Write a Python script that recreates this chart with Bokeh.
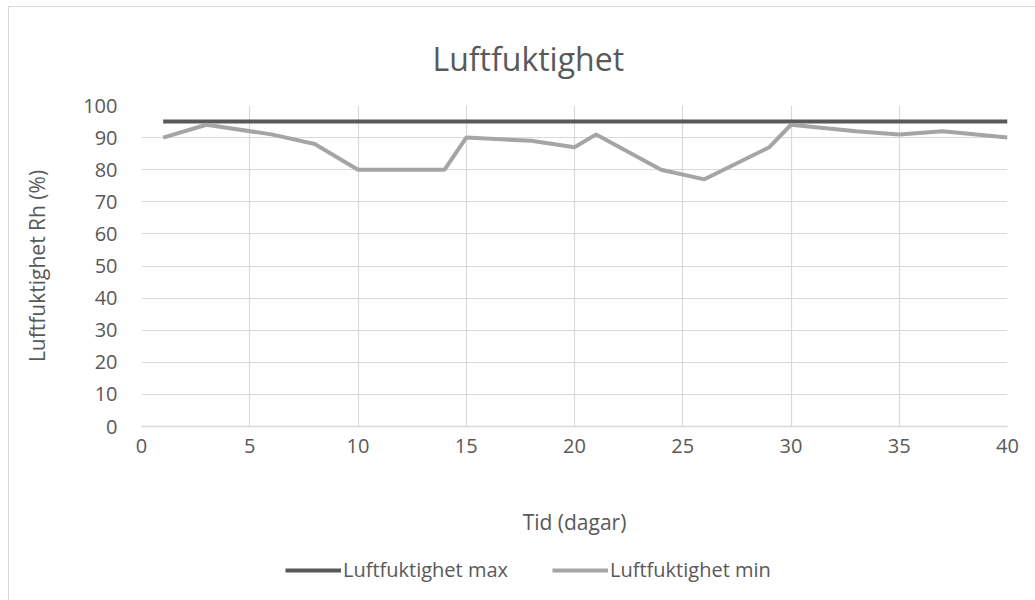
from bokeh.plotting import figure
from bokeh.layouts import column
from bokeh.models import Range1d, FixedTicker, Legend, LegendItem, ColumnDataSource
from bokeh.embed import file_html
from bokeh.resources import INLINE

# Data
days_max = [1, 40]
rh_max = [95, 95]
days_min = [1, 3, 6, 8, 10, 14, 15, 18, 20, 21, 24, 26, 29, 30, 33, 35, 37, 40]
rh_min = [90, 94, 91, 88, 80, 80, 90, 89, 87, 91, 80, 77, 87, 94, 92, 91, 92, 90]
x_ticks = [0, 5, 10, 15, 20, 25, 30, 35, 40]
y_ticks = [0, 10, 20, 30, 40, 50, 60, 70, 80, 90, 100]
series_names = ["Luftfuktighet max", "Luftfuktighet min"]
series_colors = ["#595959", "#a5a5a5"]

FONT = "Open Sans"
TXT = "#595959"
GRID = "#d9d9d9"

p = figure(width=1027, height=540, output_backend="svg", toolbar_location=None,
           x_range=Range1d(0, 40), y_range=Range1d(0, 100),
           min_border_left=132, min_border_right=29, min_border_top=98,
           min_border_bottom=121)
p.outline_line_color = None

p.title.text = "Luftfuktighet"
p.title.text_font = FONT
p.title.text_font_size = "32px"
p.title.text_font_style = "normal"
p.title.text_color = TXT
p.title.align = "left"
p.title.offset = 291
p.title.standoff = 52

for ax in (p.xaxis[0], p.yaxis[0]):
    ax.major_label_text_font = FONT
    ax.major_label_text_font_size = "20px"
    ax.major_label_text_color = TXT
    ax.axis_label_text_font = FONT
    ax.axis_label_text_font_size = "21px"
    ax.axis_label_text_font_style = "normal"
    ax.axis_label_text_color = TXT
    ax.major_tick_line_color = None
    ax.minor_tick_line_color = None

p.xaxis.ticker = FixedTicker(ticks=x_ticks)
p.yaxis.ticker = FixedTicker(ticks=y_ticks)
p.xaxis.axis_label = "Tid (dagar)"
p.yaxis.axis_label = "Luftfuktighet Rh (%)"
p.xaxis.axis_line_color = GRID
p.xaxis.axis_line_width = 1.5
p.yaxis.axis_line_color = None
p.xaxis.major_label_standoff = 6
p.yaxis.major_label_standoff = 18
p.xaxis.axis_label_standoff = 52
p.yaxis.axis_label_standoff = 29

p.xgrid.grid_line_color = GRID
p.ygrid.grid_line_color = GRID
p.xgrid.grid_line_width = 1.2
p.ygrid.grid_line_width = 1.2

src_max = ColumnDataSource(dict(x=days_max, y=rh_max))
src_min = ColumnDataSource(dict(x=days_min, y=rh_min))
p.line("x", "y", source=src_max, line_color=series_colors[0], line_width=4)
p.line("x", "y", source=src_min, line_color=series_colors[1], line_width=4)

# Legend strip below the chart (its lines lie outside its own ranges, only the legend shows)
lg = figure(width=1027, height=54, output_backend="svg", toolbar_location=None,
            x_range=Range1d(-100, -99), y_range=Range1d(-100, -99),
            min_border=0)
lg.axis.visible = False
lg.grid.visible = False
lg.outline_line_color = None
items = []
for name, col, src in zip(series_names, series_colors, (src_max, src_min)):
    r = lg.line("x", "y", source=src, line_color=col, line_width=4)
    items.append(LegendItem(label=name, renderers=[r]))
legend = Legend(items=items, orientation="horizontal", location=(144, 18))
legend.label_text_font = FONT
legend.label_text_font_size = "20px"
legend.label_text_color = TXT
legend.glyph_width = 56
legend.glyph_height = 22
legend.label_standoff = 2
legend.spacing = 44
legend.padding = 0
legend.margin = 0
legend.border_line_color = None
legend.background_fill_alpha = 0
lg.add_layout(legend, "center")

layout = column(p, lg, spacing=0)
layout.styles = {"margin-left": "8px", "margin-top": "6px",
                 "border-left": "1px solid #d9d9d9", "border-top": "1px solid #d9d9d9"}

open("out.html", "w").write(file_html(layout, INLINE))
